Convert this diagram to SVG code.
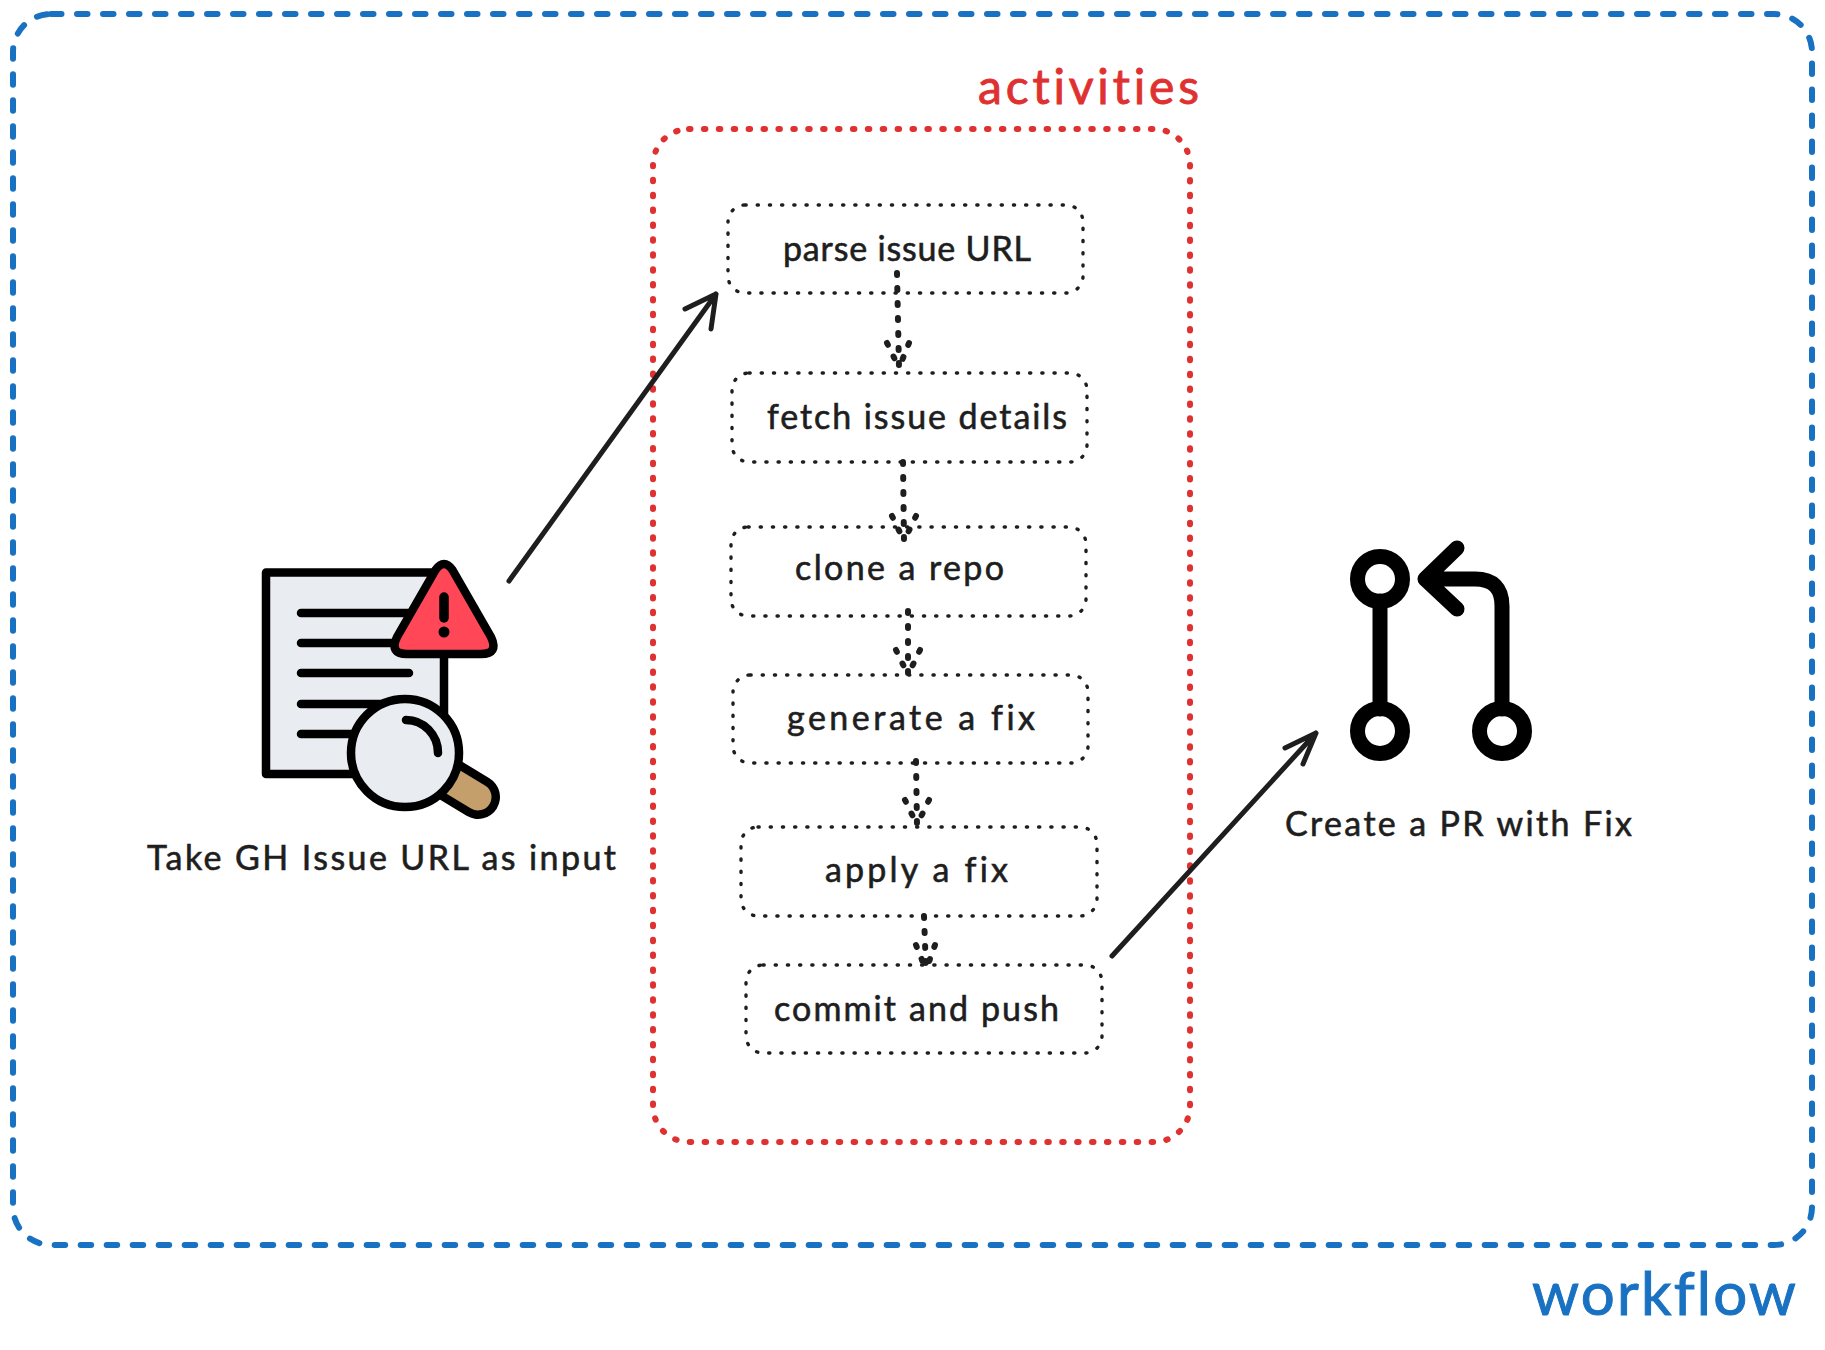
<svg xmlns="http://www.w3.org/2000/svg" width="1825" height="1350" viewBox="0 0 1825 1350">
<style>
text{font-family:"Lato","Liberation Sans",sans-serif;fill:#1e1e1e;stroke:#1e1e1e;stroke-width:.6;font-size:34px;font-variant-ligatures:none}
.box{fill:none;stroke:#1e1e1e;stroke-width:3.4;stroke-linecap:round;stroke-dasharray:1.2 11}
.dot{fill:none;stroke:#1e1e1e;stroke-width:6;stroke-linecap:round;stroke-dasharray:2 13}
.arr{fill:none;stroke:#1e1e1e;stroke-width:5;stroke-linecap:round;stroke-linejoin:round}
.k{stroke:#000;stroke-width:8.5;stroke-linecap:round;stroke-linejoin:round}
.gray{fill:#e9edf1}
.pr{fill:none;stroke:#000;stroke-width:15;stroke-linecap:round;stroke-linejoin:round}
</style>
<rect width="1825" height="1350" fill="#fff"/>

<g id="workflow">
<rect x="13" y="14" width="1799" height="1231" rx="38" fill="none" stroke="#1971c2" stroke-width="6" stroke-linecap="round" stroke-dasharray="10.5 15.5"/>
<text x="1532" y="1315" textLength="264" style="font-size:60px;fill:#1971c2;stroke:#1971c2;stroke-width:1">workflow</text>
</g>

<g id="activities">
<rect x="653" y="129" width="537" height="1013" rx="36" fill="none" stroke="#e03131" stroke-width="6" stroke-linecap="round" stroke-dasharray="1.5 13.4"/>
<text x="978" y="104" textLength="221" style="font-size:48px;fill:#e03131;stroke:#e03131;stroke-width:.9">activities</text>
</g>

<g id="input">
<rect class="k gray" x="266" y="572.5" width="178" height="201.5"/>
<path class="k" fill="none" d="M301 613H420M301 643H400M301 673H409M301 704H400M301 734H380"/>
<path class="k" style="fill:#ff4757" d="M435.500 570Q444 558 452.500 570L491 637Q499 654 481 654L407 654Q389 654 397 637Z"/>
<path d="M444 597V618" stroke="#000" stroke-width="9.500" stroke-linecap="round"/>
<circle cx="444" cy="632" r="5.500" fill="#000"/>
<path d="M440 774L478 797" stroke="#000" stroke-width="44" stroke-linecap="round"/>
<path d="M440 774L478 797" stroke="#c49f6c" stroke-width="27" stroke-linecap="round"/>
<circle class="k gray" cx="405" cy="753" r="54"/>
<path class="k" fill="none" d="M406 720A32 33 0 0 1 438 753"/>
<text x="147" y="870" textLength="469">Take GH Issue URL as input</text>
</g>

<g id="step-parse">
<rect class="box" x="728" y="205" width="355" height="88" rx="17"/>
<text x="783" y="261" textLength="248">parse issue URL</text>
</g>
<g id="step-fetch">
<rect class="box" x="732" y="373" width="355" height="89" rx="17"/>
<text x="767" y="429" textLength="300">fetch issue details</text>
</g>
<g id="step-clone">
<rect class="box" x="731" y="527" width="355" height="89" rx="17"/>
<text x="795" y="580" textLength="209">clone a repo</text>
</g>
<g id="step-generate">
<rect class="box" x="733" y="675" width="355" height="88" rx="17"/>
<text x="787" y="730" textLength="248">generate a fix</text>
</g>
<g id="step-apply">
<rect class="box" x="741" y="827" width="356" height="89" rx="17"/>
<text x="825" y="882" textLength="183">apply a fix</text>
</g>
<g id="step-commit">
<rect class="box" x="746" y="965" width="356" height="88" rx="17"/>
<text x="774" y="1021" textLength="285">commit and push</text>
</g>

<g id="pull-request">
<circle class="pr" cx="1380" cy="579" r="22.500"/>
<circle class="pr" cx="1380" cy="731" r="22.500"/>
<circle class="pr" cx="1502" cy="731" r="22.500"/>
<path class="pr" d="M1380 601V709M1502 709V606Q1502 579 1475 579H1425M1457 548L1425 579L1457 609"/>
<text x="1285" y="836" textLength="347">Create a PR with Fix</text>
</g>

<g id="connectors">
<path class="arr" d="M509 581L716 294M685 309L716 294L711 329"/>
<path class="arr" d="M1112 956L1316 733M1285 748L1316 733L1303 764"/>
<path class="dot" d="M897 273L899 368M887 343L899 368M909 343L899 368"/>
<path class="dot" d="M903 462L904 541M892 516L904 541M916 516L904 541"/>
<path class="dot" d="M908 611L908 675M896 650L908 675M920 650L908 675"/>
<path class="dot" d="M916 761L917 825M905 800L917 825M929 800L917 825"/>
<path class="dot" d="M924 916L926 970M916 945L926 970M935 945L926 970"/>
</g>
</svg>
